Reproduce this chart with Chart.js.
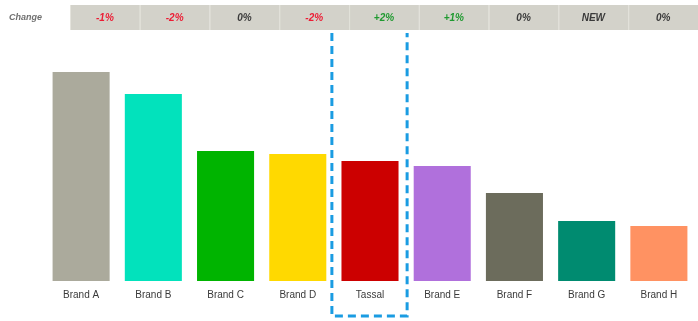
<!DOCTYPE html>
<html>
<head>
<meta charset="utf-8">
<script src="https://cdn.jsdelivr.net/npm/chart.js@4/dist/chart.umd.min.js"></script>
<style>
  html, body { margin: 0; padding: 0; background: #fff; }
  #wrap { width: 698px; height: 321px; position: relative; }
</style>
</head>
<body>
<div id="wrap"><canvas id="chart"></canvas></div>
<script>
// Data
const brands = ['Brand A', 'Brand B', 'Brand C', 'Brand D', 'Tassal', 'Brand E', 'Brand F', 'Brand G', 'Brand H']
const shares = [209, 187, 130, 127, 120, 115, 88, 60, 55]
const changes = ['-1%', '-2%', '0%', '-2%', '+2%', '+1%', '0%', 'NEW', '0%']
const barColors = ['#abaa9c', '#02e2bc', '#00b400', '#ffd900', '#cc0000', '#b070dc', '#6c6c5c', '#008b70', '#ff9262']
const highlight = 'Tassal'

const changeColor = txt => {
  if (txt.startsWith('-')) return '#ec1c34'
  if (txt.startsWith('+')) return '#1f9a30'
  return '#3a3a3a'
}

// Header strip with the change row
const headerPlugin = {
  id: 'header',
  beforeDraw (c) {
    const ctx = c.ctx
    ctx.save()
    ctx.textBaseline = 'middle'
    ctx.font = 'italic bold 9px "Liberation Sans", Arial, sans-serif'
    ctx.fillStyle = '#707070'
    ctx.textAlign = 'left'
    ctx.fillText('Change', 9, 18)
    ctx.font = 'italic bold 10px "Liberation Sans", Arial, sans-serif'
    const x0 = 70
    const w = (698 - x0) / changes.length
    changes.forEach((txt, i) => {
      const x = x0 + i * w
      ctx.fillStyle = '#d3d2ca'
      ctx.fillRect(x, 5, w, 25)
      ctx.fillStyle = '#e4e3dc'
      ctx.fillRect(x, 5, 1, 25)
      ctx.fillStyle = changeColor(txt)
      ctx.textAlign = 'center'
      ctx.fillText(txt, x + w / 2, 18)
    })
    ctx.restore()
  }
}

// Dashed box around the highlighted brand
const highlightPlugin = {
  id: 'highlight',
  afterDraw (c) {
    const xs = c.scales.x
    const i = brands.indexOf(highlight)
    const step = xs.getPixelForValue(1) - xs.getPixelForValue(0)
    const cx = xs.getPixelForValue(i)
    const left = cx - step / 2 - 2
    const right = cx + step / 2 + 1
    const ctx = c.ctx
    ctx.save()
    ctx.strokeStyle = '#1a9ce2'
    ctx.lineWidth = 3
    ctx.setLineDash([8, 5])
    ctx.beginPath()
    ctx.moveTo(left, 33)
    ctx.lineTo(left, 316)
    ctx.lineTo(right, 316)
    ctx.lineTo(right, 33)
    ctx.stroke()
    ctx.restore()
  }
}

const chart = new Chart(document.querySelector('#chart'), {
  type: 'bar',
  data: {
    labels: brands,
    datasets: [
      {
        data: shares,
        backgroundColor: barColors,
        borderWidth: 0,
        categoryPercentage: 1,
        barPercentage: 0.79
      }
    ]
  },
  options: {
    responsive: true,
    maintainAspectRatio: false,
    animation: false,
    layout: { padding: { left: 45, right: 3, top: 61, bottom: 0 } },
    plugins: {
      legend: { display: false },
      tooltip: { enabled: false }
    },
    scales: {
      x: {
        grid: { display: false, drawTicks: false },
        border: { display: false },
        ticks: {
          padding: 8,
          color: '#3a3a3a',
          font: { family: '"Liberation Sans", Arial, sans-serif', size: 10 }
        },
        afterFit (scale) { scale.height = 40 }
      },
      y: {
        display: false,
        min: 0,
        max: 220
      }
    }
  },
  plugins: [headerPlugin, highlightPlugin]
})
</script>
</body>
</html>
